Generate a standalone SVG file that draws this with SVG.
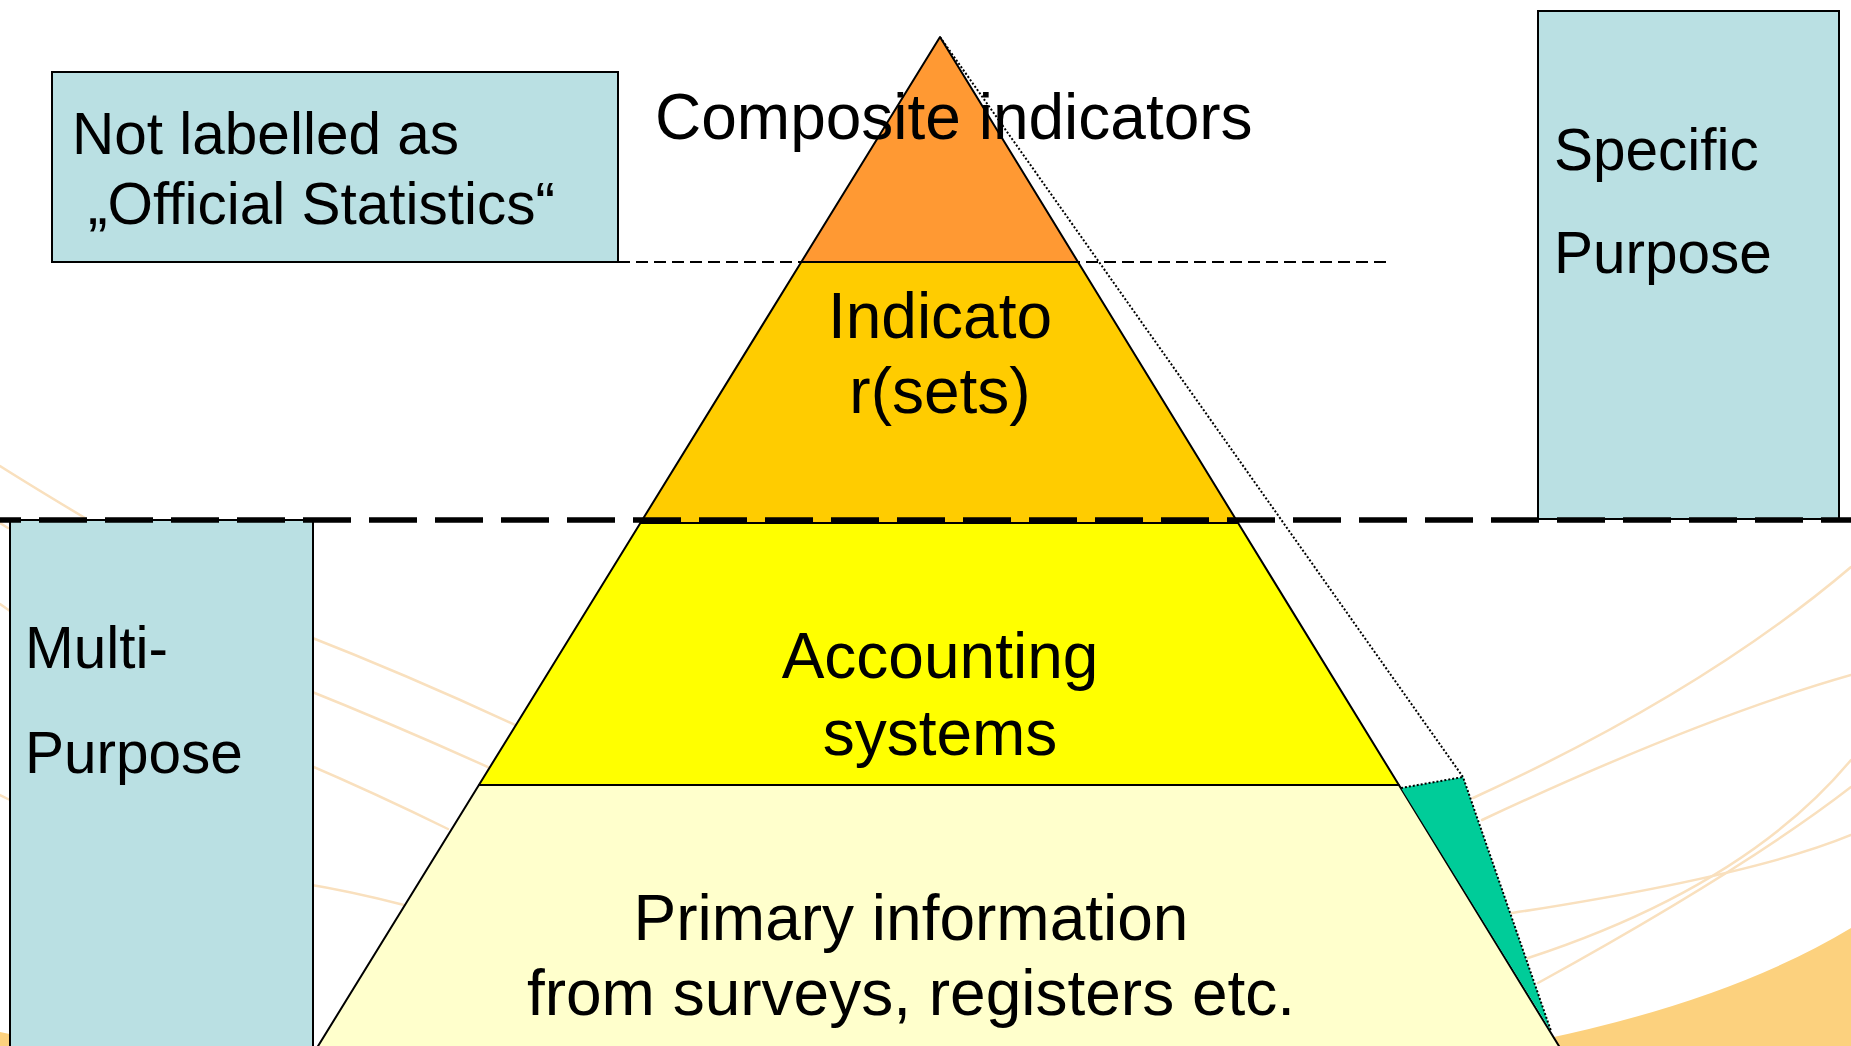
<svg xmlns="http://www.w3.org/2000/svg" width="1851" height="1046" viewBox="0 0 1851 1046">
<style>
.bg{fill:none;stroke:#F9E0BE;stroke-width:2.5;stroke-linecap:round}
.box{fill:#BAE0E3;stroke:#000;stroke-width:2}
.layer{stroke:#000;stroke-width:2;stroke-linejoin:round}
.t{font-family:"Liberation Sans",Arial,sans-serif;fill:#000}
.bt{font-size:58.5px}
.pt{font-size:64px;text-anchor:middle}
</style>
<rect x="0" y="0" width="1851" height="1046" fill="#fff"/>
<g id="background">
<path d="M1540,1040 Q1732,1000 1851,928 L1851,1046 L1540,1046 Z" fill="#FCD17E"/>
<path d="M0,1032 Q6,1033 12,1035 L12,1046 L0,1046 Z" fill="#FCD17E"/>
<path class="bg" d="M0,466 Q30,485 85,518"/>
<path class="bg" d="M0,523 L8,528"/>
<path class="bg" d="M0,604 L10,611"/>
<path class="bg" d="M0,795 L10,800"/>
<path class="bg" d="M300,633 Q410,676 515,725"/>
<path class="bg" d="M300,687 Q395,725 490,768"/>
<path class="bg" d="M300,761 Q375,793 448,829"/>
<path class="bg" d="M300,883 Q350,891 404,905"/>
<path class="bg" d="M1473,798 Q1704,692 1851,567"/>
<path class="bg" d="M1482,820 Q1700,718 1851,675"/>
<path class="bg" d="M1512,913 Q1752,876 1851,835"/>
<path class="bg" d="M1528,958 Q1745,887 1851,760"/>
<path class="bg" d="M1538,983 Q1745,869 1851,787"/>
</g>
<g id="box-not-labelled">
<rect class="box" x="52" y="72" width="566" height="190"/>
<text class="t bt" x="72" y="154">Not labelled as</text>
<text class="t bt" x="88" y="224">„Official Statistics“</text>
</g>
<g id="box-specific-purpose">
<rect class="box" x="1538" y="11" width="301" height="508"/>
<text class="t bt" x="1554" y="170">Specific</text>
<text class="t bt" x="1554" y="273">Purpose</text>
</g>
<g id="box-multi-purpose">
<rect class="box" x="10" y="520" width="303" height="540"/>
<text class="t bt" x="25" y="668">Multi-</text>
<text class="t bt" x="25" y="773">Purpose</text>
</g>
<g id="layer-primary">
<polygon class="layer" points="478.9,785 1398.9,785 1562,1051 315,1051" fill="#FFFFCC"/>
</g>
<g id="layer-accounting">
<polygon class="layer" points="640.4,523 1238.1,523 1398.9,785 478.9,785" fill="#FFFF00"/>
</g>
<g id="layer-indicators">
<polygon class="layer" points="801.3,262 1078,262 1238.1,523 640.4,523" fill="#FFCC00"/>
</g>
<g id="layer-composite">
<polygon class="layer" points="940,37 1078,262 801.3,262" fill="#FF9933"/>
</g>
<g id="teal-wedge">
<polygon points="1401,788 1463,777 1551,1031" fill="#00CC99"/>
</g>
<g id="connectors" fill="none" stroke="#000">
<polyline points="940,37 1463,777 1551,1031" stroke-width="2" stroke-dasharray="2 2"/>
<line x1="1401" y1="788" x2="1463" y2="777" stroke-width="2" stroke-dasharray="2 2"/>
<line x1="618" y1="262" x2="1386" y2="262" stroke-width="2" stroke-dasharray="12 6"/>
<line x1="-27" y1="520" x2="1851" y2="520" stroke-width="5.5" stroke-dasharray="48 18"/>
</g>
<g id="labels">
<text class="t" x="655" y="139" font-size="64">Composite indicators</text>
<text class="t pt" x="940" y="338">Indicato</text>
<text class="t pt" x="940" y="413">r(sets)</text>
<text class="t pt" x="940" y="678">Accounting</text>
<text class="t pt" x="940" y="755">systems</text>
<text class="t pt" x="911" y="940">Primary information</text>
<text class="t pt" x="911" y="1015">from surveys, registers etc.</text>
</g>
</svg>
